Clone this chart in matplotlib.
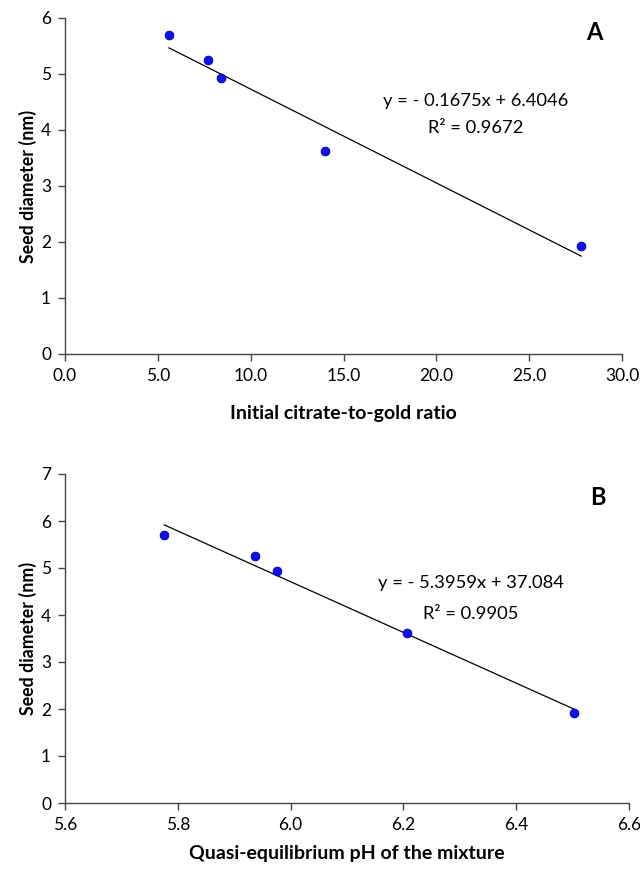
import matplotlib
matplotlib.use("Agg")
import matplotlib.pyplot as plt
import numpy as np

plt.rcParams['font.family'] = ['Lato', 'DejaVu Sans']

# Data
ratio = [5.6, 7.7, 8.4, 14.0, 27.8]
ph = [5.776, 5.936, 5.975, 6.207, 6.503]
diameter = [5.7, 5.25, 4.93, 3.62, 1.92]
fitA = (-0.1675, 6.4046)
fitB = (-5.3959, 37.084)
eqA = ["y = - 0.1675x + 6.4046", "R² = 0.9672"]
eqB = ["y = - 5.3959x + 37.084", "R² = 0.9905"]
xticksA = [0, 5, 10, 15, 20, 25, 30]
yticksA = [0, 1, 2, 3, 4, 5, 6]
xticksB = [5.6, 5.8, 6.0, 6.2, 6.4, 6.6]
yticksB = [0, 1, 2, 3, 4, 5, 6, 7]

fig = plt.figure(figsize=(6.4, 8.73), dpi=100)
W, H = 640, 873
axA = fig.add_axes([65/W, 1-354/H, 557/W, 336/H])
axB = fig.add_axes([65/W, 1-803/H, 564/W, 329/H])

def style(ax):
    for s in ['top', 'right']:
        ax.spines[s].set_visible(False)
    for s in ['left', 'bottom']:
        ax.spines[s].set_linewidth(1.0)
        ax.spines[s].set_color('#444444')
    ax.tick_params(direction='out', length=5, width=1.0, color='#444444',
                   labelsize=12.5, pad=5)

# Panel A
axA.scatter(ratio, diameter, s=40, color='#1010ee', edgecolor='#0000aa', linewidth=0.6, zorder=3)
xa = np.array([min(ratio), max(ratio)])
axA.plot(xa, fitA[0]*xa + fitA[1], color='black', lw=0.9)
axA.set_xlim(0, 30)
axA.set_ylim(0, 6)
axA.set_xticks(xticksA)
axA.set_xticklabels([f"{v:.1f}" for v in xticksA])
axA.set_yticks(yticksA)
style(axA)
axA.set_xlabel("Initial citrate-to-gold ratio", fontsize=14, fontweight='bold', labelpad=15)
axA.set_ylabel("Seed diameter (nm)", fontsize=12.8, fontweight='bold', labelpad=3)
axA.text(22.1, 4.52, eqA[0], ha='center', va='center', fontsize=13.2)
axA.text(22.1, 4.04, eqA[1], ha='center', va='center', fontsize=13.2)
axA.text(28.5, 5.75, "A", ha='center', va='center', fontsize=17, fontweight='bold')

# Panel B
axB.scatter(ph, diameter, s=40, color='#1010ee', edgecolor='#0000aa', linewidth=0.6, zorder=3)
xb = np.array([min(ph), max(ph)])
axB.plot(xb, fitB[0]*xb + fitB[1], color='black', lw=0.9)
axB.set_xlim(5.6, 6.6)
axB.set_ylim(0, 7)
axB.set_xticks(xticksB)
axB.set_xticklabels([f"{v:.1f}" for v in xticksB])
axB.set_yticks(yticksB)
style(axB)
axB.set_xlabel("Quasi-equilibrium pH of the mixture", fontsize=14, fontweight='bold', labelpad=9)
axB.set_ylabel("Seed diameter (nm)", fontsize=12.8, fontweight='bold', labelpad=3)
axB.text(6.319, 4.68, eqB[0], ha='center', va='center', fontsize=13.2)
axB.text(6.319, 4.02, eqB[1], ha='center', va='center', fontsize=13.2)
axB.text(6.545, 6.51, "B", ha='center', va='center', fontsize=17, fontweight='bold')

fig.savefig("out.png", dpi=100)
